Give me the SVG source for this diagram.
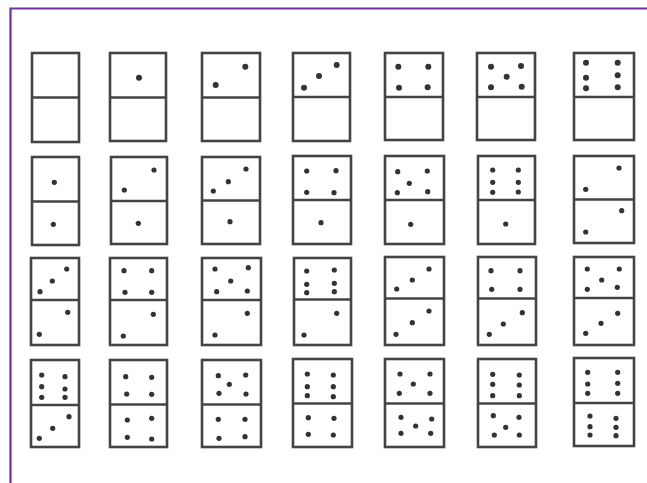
<svg xmlns="http://www.w3.org/2000/svg" width="647" height="483" viewBox="0 0 647 483">
<style>
.frame{fill:none;stroke:#7030a0;stroke-width:2.2}
.d rect{fill:#fff;stroke:#444;stroke-width:2.6}
.d line{stroke:#444;stroke-width:2.6}
.d circle{fill:#333}
.r1 circle{r:3px}
.rs circle{r:2.6px}
</style>
<rect width="647" height="483" fill="#fff"/>
<path class="frame" d="M10.5,483 V8.5 H647"/>
<!-- Row 1 -->
<g id="d-0-0" class="d r1"><rect x="32" y="53" width="47" height="89"/><line x1="32" y1="97.5" x2="79" y2="97.5"/></g>
<g id="d-1-0" class="d r1"><rect x="110" y="53" width="56" height="88"/><line x1="110" y1="97.5" x2="166" y2="97.5"/><circle cx="139" cy="77.7"/></g>
<g id="d-2-0" class="d r1"><rect x="202" y="53" width="58" height="88"/><line x1="202" y1="97.5" x2="260" y2="97.5"/><circle cx="245.3" cy="66.7"/><circle cx="215.7" cy="85"/></g>
<g id="d-3-0" class="d r1"><rect x="293" y="53" width="57" height="88"/><line x1="293" y1="97" x2="350" y2="97"/><circle cx="304" cy="87.7"/><circle cx="319" cy="76"/><circle cx="336.7" cy="65"/></g>
<g id="d-4-0" class="d r1"><rect x="385" y="53" width="58" height="87"/><line x1="385" y1="97" x2="443" y2="97"/><circle cx="398.3" cy="66.7"/><circle cx="428.3" cy="66.7"/><circle cx="399" cy="87.7"/><circle cx="427.7" cy="87.3"/></g>
<g id="d-5-0" class="d r1"><rect x="477" y="53" width="58" height="87"/><line x1="477" y1="97" x2="535" y2="97"/><circle cx="491" cy="66.7"/><circle cx="521" cy="66"/><circle cx="506.7" cy="76.7"/><circle cx="491" cy="87.3"/><circle cx="521.7" cy="86.7"/></g>
<g id="d-6-0" class="d r1"><rect x="574" y="53" width="60" height="87"/><line x1="574" y1="97" x2="634" y2="97"/><circle cx="586" cy="62.7"/><circle cx="586" cy="77.7"/><circle cx="586" cy="88.3"/><circle cx="617.7" cy="62.7"/><circle cx="617.7" cy="75.3"/><circle cx="617.7" cy="87.3"/></g>
<!-- Row 2 -->
<g id="d-1-1" class="d rs"><rect x="32" y="157" width="47" height="88"/><line x1="32" y1="201.5" x2="79" y2="201.5"/><circle cx="54.3" cy="182.3"/><circle cx="53.3" cy="224.3"/></g>
<g id="d-2-1" class="d rs"><rect x="111" y="157" width="56" height="87"/><line x1="111" y1="201" x2="167" y2="201"/><circle cx="154" cy="170"/><circle cx="124.3" cy="190"/><circle cx="138.3" cy="223.3"/></g>
<g id="d-3-1" class="d rs"><rect x="202" y="157" width="58" height="87"/><line x1="202" y1="200.5" x2="260" y2="200.5"/><circle cx="246" cy="169"/><circle cx="228.3" cy="181.7"/><circle cx="213.3" cy="191"/><circle cx="230" cy="221.7"/></g>
<g id="d-4-1" class="d rs"><rect x="293" y="156" width="58" height="88"/><line x1="293" y1="200" x2="351" y2="200"/><circle cx="306.7" cy="171"/><circle cx="306.7" cy="192.3"/><circle cx="336" cy="170.7"/><circle cx="334" cy="192.7"/><circle cx="321" cy="222.7"/></g>
<g id="d-5-1" class="d rs"><rect x="385" y="156" width="59" height="88"/><line x1="385" y1="200" x2="444" y2="200"/><circle cx="397.7" cy="171.7"/><circle cx="427.3" cy="171"/><circle cx="409.3" cy="183.3"/><circle cx="397.3" cy="192.7"/><circle cx="427.7" cy="191.7"/><circle cx="410.7" cy="224.3"/></g>
<g id="d-6-1" class="d rs"><rect x="478" y="156" width="57" height="88"/><line x1="478" y1="200" x2="535" y2="200"/><circle cx="492.7" cy="170"/><circle cx="492.7" cy="182.3"/><circle cx="492.7" cy="192.3"/><circle cx="518.3" cy="170"/><circle cx="518.3" cy="182.3"/><circle cx="518.3" cy="192"/><circle cx="505.7" cy="224"/></g>
<g id="d-2-2" class="d rs"><rect x="574" y="156" width="60" height="87"/><line x1="574" y1="199.5" x2="634" y2="199.5"/><circle cx="619" cy="168"/><circle cx="585.7" cy="189.3"/><circle cx="621.7" cy="210.7"/><circle cx="585.7" cy="232"/></g>
<!-- Row 3 -->
<g id="d-3-2" class="d rs"><rect x="31" y="258" width="48" height="87"/><line x1="31" y1="300" x2="79" y2="300"/><circle cx="66.7" cy="269"/><circle cx="52.3" cy="281"/><circle cx="40" cy="291.7"/><circle cx="67.7" cy="312.3"/><circle cx="39.3" cy="334.3"/></g>
<g id="d-4-2" class="d rs"><rect x="110" y="258" width="57" height="87"/><line x1="110" y1="300" x2="167" y2="300"/><circle cx="124" cy="270.7"/><circle cx="151.7" cy="270.7"/><circle cx="125" cy="292.3"/><circle cx="151.7" cy="292.3"/><circle cx="153.3" cy="314.3"/><circle cx="123.3" cy="336"/></g>
<g id="d-5-2" class="d rs"><rect x="202" y="258" width="59" height="87"/><line x1="202" y1="300" x2="261" y2="300"/><circle cx="215" cy="269"/><circle cx="248.3" cy="267.7"/><circle cx="230.7" cy="281"/><circle cx="216.7" cy="291.7"/><circle cx="247.3" cy="291"/><circle cx="247.3" cy="313.3"/><circle cx="215" cy="335"/></g>
<g id="d-6-2" class="d rs"><rect x="294" y="258" width="57" height="87"/><line x1="294" y1="299.5" x2="351" y2="299.5"/><circle cx="306.7" cy="271"/><circle cx="306.7" cy="284.3"/><circle cx="306.7" cy="292.7"/><circle cx="334.3" cy="270"/><circle cx="334.3" cy="283.3"/><circle cx="334.3" cy="291.7"/><circle cx="336.7" cy="313.3"/><circle cx="304" cy="335"/></g>
<g id="d-3-3" class="d rs"><rect x="385" y="257" width="59" height="88"/><line x1="385" y1="298.5" x2="444" y2="298.5"/><circle cx="429" cy="269"/><circle cx="412.3" cy="280"/><circle cx="396.7" cy="289"/><circle cx="429" cy="311"/><circle cx="412.3" cy="322.7"/><circle cx="396" cy="334.3"/></g>
<g id="d-4-3" class="d rs"><rect x="478" y="257" width="58" height="88"/><line x1="478" y1="298.5" x2="536" y2="298.5"/><circle cx="491" cy="270.7"/><circle cx="520" cy="270.7"/><circle cx="491.7" cy="289.3"/><circle cx="520" cy="289.3"/><circle cx="522.3" cy="312.7"/><circle cx="503.3" cy="324"/><circle cx="489.3" cy="334.3"/></g>
<g id="d-5-3" class="d rs"><rect x="574" y="257" width="60" height="88"/><line x1="574" y1="298" x2="634" y2="298"/><circle cx="587.3" cy="269"/><circle cx="619.3" cy="269"/><circle cx="601.7" cy="280"/><circle cx="587.3" cy="289.3"/><circle cx="617.3" cy="287.3"/><circle cx="617.7" cy="313.3"/><circle cx="601" cy="323.3"/><circle cx="585.7" cy="333.3"/></g>
<!-- Row 4 -->
<g id="d-6-3" class="d rs"><rect x="31" y="360" width="48" height="87"/><line x1="31" y1="405" x2="79" y2="405"/><circle cx="41.7" cy="375"/><circle cx="41.7" cy="386.7"/><circle cx="41.7" cy="397.3"/><circle cx="65" cy="376.7"/><circle cx="65" cy="389"/><circle cx="65" cy="397.3"/><circle cx="69" cy="416.7"/><circle cx="52.7" cy="428.3"/><circle cx="39.3" cy="438.3"/></g>
<g id="d-4-4" class="d rs"><rect x="110" y="360" width="57" height="87"/><line x1="110" y1="404.5" x2="167" y2="404.5"/><circle cx="125.7" cy="376.7"/><circle cx="151.7" cy="377.3"/><circle cx="126.7" cy="394"/><circle cx="151.7" cy="394.3"/><circle cx="127.3" cy="420"/><circle cx="151.7" cy="418.3"/><circle cx="127.3" cy="437.3"/><circle cx="151.7" cy="439"/></g>
<g id="d-5-4" class="d rs"><rect x="202" y="360" width="59" height="87"/><line x1="202" y1="404.5" x2="261" y2="404.5"/><circle cx="218.3" cy="375.7"/><circle cx="245.7" cy="375"/><circle cx="229.3" cy="384.3"/><circle cx="219" cy="393.3"/><circle cx="246" cy="394"/><circle cx="218.3" cy="419.3"/><circle cx="245" cy="419.3"/><circle cx="219" cy="438.3"/><circle cx="245" cy="436.7"/></g>
<g id="d-6-4" class="d rs"><rect x="293" y="359" width="59" height="88"/><line x1="293" y1="403.5" x2="352" y2="403.5"/><circle cx="307.3" cy="374"/><circle cx="307.3" cy="386.7"/><circle cx="307.3" cy="395.7"/><circle cx="333.3" cy="375"/><circle cx="333.3" cy="386.7"/><circle cx="333.3" cy="396.7"/><circle cx="308.3" cy="417.7"/><circle cx="308.3" cy="434.3"/><circle cx="334" cy="418.3"/><circle cx="333.3" cy="435"/></g>
<g id="d-5-5" class="d rs"><rect x="385" y="359" width="59" height="88"/><line x1="385" y1="403.5" x2="444" y2="403.5"/><circle cx="400" cy="374"/><circle cx="430" cy="374"/><circle cx="413.3" cy="384"/><circle cx="399.3" cy="393.3"/><circle cx="430" cy="393.3"/><circle cx="401" cy="417.3"/><circle cx="431.7" cy="419"/><circle cx="415.7" cy="426"/><circle cx="401" cy="433.3"/><circle cx="430.7" cy="433.3"/></g>
<g id="d-6-5" class="d rs"><rect x="478" y="359" width="58" height="88"/><line x1="478" y1="403.5" x2="536" y2="403.5"/><circle cx="492.7" cy="374.3"/><circle cx="492.7" cy="384.3"/><circle cx="492.7" cy="395.7"/><circle cx="519.3" cy="375"/><circle cx="519.3" cy="385"/><circle cx="519.3" cy="395.7"/><circle cx="493.3" cy="415.7"/><circle cx="519" cy="417.3"/><circle cx="505.7" cy="427.3"/><circle cx="494.3" cy="435"/><circle cx="519.3" cy="435"/></g>
<g id="d-6-6" class="d rs"><rect x="574" y="358" width="60" height="88"/><line x1="574" y1="403" x2="634" y2="403"/><circle cx="587.7" cy="372.3"/><circle cx="587.7" cy="384"/><circle cx="587.7" cy="393.3"/><circle cx="617.7" cy="372.3"/><circle cx="617.7" cy="383.3"/><circle cx="617.7" cy="393.3"/><circle cx="590" cy="416"/><circle cx="590" cy="426.7"/><circle cx="590" cy="435"/><circle cx="616" cy="418.3"/><circle cx="616" cy="427.3"/><circle cx="616" cy="435.7"/></g>
<g id="connectors"></g>
</svg>
